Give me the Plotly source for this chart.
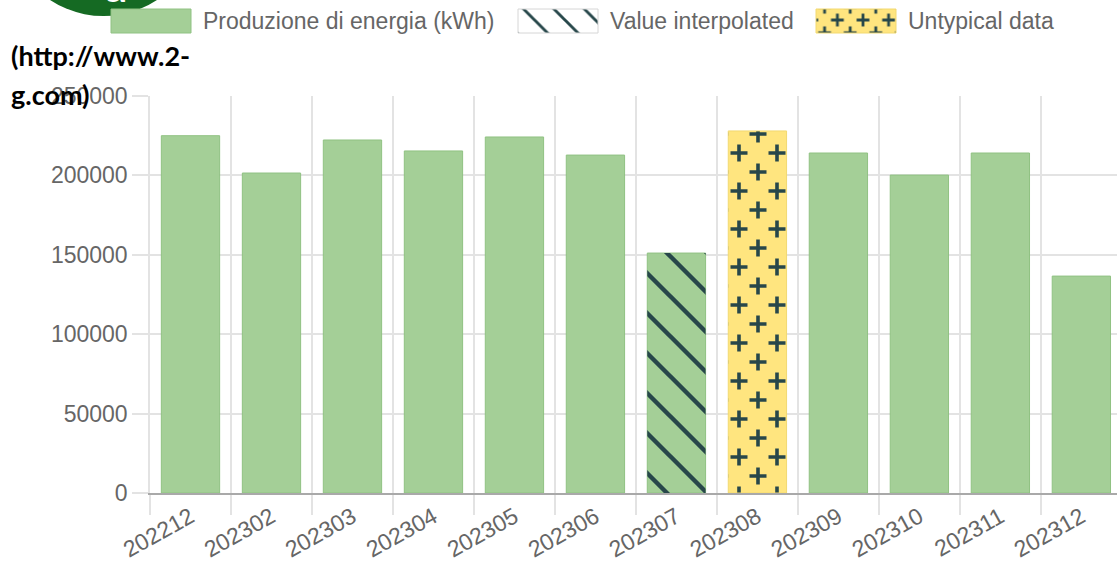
import plotly.graph_objects as go

# ---- data ----
months = ["202212", "202302", "202303", "202304", "202305", "202306",
          "202307", "202308", "202309", "202310", "202311", "202312"]
production_kwh = [225000, 201500, 222300, 215400, 224200, 212800,
                  151100, 228000, 214100, 200200, 214100, 136600]
interpolated_months = ["202307"]
untypical_months = ["202308"]
y_ticks = [0, 50000, 100000, 150000, 200000, 250000]
series_names = ["Produzione di energia (kWh)", "Value interpolated", "Untypical data"]
link_lines = ["(http://www.2-", "g.com)"]

GREEN = "#a4cf97"
GREEN_LINE = "#90c283"
YELLOW = "#ffe57f"
DARK = "#27474a"
GRID = "#e3e3e3"
FONT = "Liberation Sans, Arial, Helvetica, sans-serif"

normal_y = [v if m not in untypical_months else None for m, v in zip(months, production_kwh)]
interp_y = [v if m in interpolated_months else None for m, v in zip(months, production_kwh)]
untyp_y = [v if m in untypical_months else None for m, v in zip(months, production_kwh)]

fig = go.Figure()
fig.add_trace(go.Bar(
    x=months, y=normal_y, name=series_names[0], width=0.72,
    marker=dict(color=GREEN, line=dict(color=GREEN_LINE, width=1)),
    hoverinfo="skip",
))
fig.add_trace(go.Bar(
    x=months, y=interp_y, name=series_names[1], width=0.72,
    marker=dict(color="rgba(0,0,0,0)", line=dict(color="rgba(0,0,0,0)", width=0),
                pattern=dict(shape="\\", fgcolor=DARK, bgcolor="rgba(0,0,0,0)",
                             size=40, solidity=0.1, fillmode="replace")),
    hoverinfo="skip",
))
fig.add_trace(go.Bar(
    x=months, y=untyp_y, name=series_names[2], width=0.72,
    marker=dict(color=YELLOW, line=dict(color="#f2d970", width=1),
                pattern=dict(shape="+", fgcolor=DARK, bgcolor=YELLOW,
                             size=38, solidity=0.1, fillmode="replace")),
    hoverinfo="skip",
))

W, H = 1117, 562
L, T, B = 150, 96, 69
PW = W - L
PH = H - T - B


def px_x(x):
    return (x - L) / PW


def px_y(y):
    return (H - B - y) / PH


fig.update_layout(
    width=W, height=H,
    margin=dict(l=L, r=0, t=T, b=B, pad=0, autoexpand=False),
    paper_bgcolor="white", plot_bgcolor="white",
    barmode="overlay",
    font=dict(family=FONT, size=23, color="#666666"),
    showlegend=True,
    legend=dict(orientation="h", x=px_x(110), xanchor="left", y=px_y(2), yanchor="top",
                font=dict(family=FONT, size=23, color="#666666"),
                itemwidth=80, traceorder="normal", bgcolor="rgba(0,0,0,0)",
                itemclick=False, itemdoubleclick=False),
    xaxis=dict(type="category", categoryorder="array", categoryarray=months,
               range=[-0.5, 11.44], tickson="boundaries", ticks="outside", ticklen=20,
               tickcolor=GRID, tickwidth=1.5, showgrid=True, gridcolor=GRID, gridwidth=1.5,
               showline=True, linecolor="#a9a9a9", linewidth=1.5, tickangle=-29,
               ticklabelstandoff=0, automargin=False,
               tickfont=dict(family=FONT, size=23, color="#666666"), fixedrange=True),
    yaxis=dict(range=[0, 250000], tickvals=y_ticks, tickformat="d", ticks="outside",
               ticklen=16, tickcolor=GRID, tickwidth=1.5, showgrid=True, gridcolor=GRID,
               gridwidth=1.5, zeroline=False, showline=True, linecolor=GRID, linewidth=1.5,
               automargin=False,
               tickfont=dict(family=FONT, size=23, color="#666666"), fixedrange=True),
    shapes=[dict(type="circle", xref="paper", yref="paper",
                 x0=px_x(6), x1=px_x(201), y0=px_y(16), y1=px_y(-179),
                 fillcolor="#156a23", line=dict(width=0), layer="above")],
    annotations=[
        dict(text="<b>a</b>", xref="paper", yref="paper", x=px_x(116), y=px_y(13),
             xanchor="center", yanchor="bottom", showarrow=False,
             font=dict(family="Lato", size=44, color="white")),
        dict(text="<b>%s</b>" % link_lines[0], xref="paper", yref="paper",
             x=px_x(9), y=px_y(56), xanchor="left", yanchor="middle", showarrow=False,
             font=dict(family="Lato", size=27, color="black")),
        dict(text="<b>%s</b>" % link_lines[1], xref="paper", yref="paper",
             x=px_x(9), y=px_y(94), xanchor="left", yanchor="middle", showarrow=False,
             font=dict(family="Lato", size=27, color="black")),
    ],
)

post_js = r"""
var gd = document.getElementById('{plot_id}');
document.body.style.margin = '0';
function patOf(el){
  var f = el.style.fill || el.getAttribute('fill') || '';
  var m = f.match(/#([^"')\s]+)/);
  return m ? document.getElementById(m[1]) : null;
}
function setTile(pt, s){
  pt.setAttribute('width', s); pt.setAttribute('height', s);
  var r = pt.querySelector('rect');
  if(r){ r.setAttribute('width', s); r.setAttribute('height', s); }
  return pt.querySelector('path');
}
function cross(pt, s, a, w){
  if(!pt) return;
  var p = setTile(pt, s); if(!p) return;
  var c = [[0,0],[s,0],[0,s],[s,s],[s/2,s/2]], d = '';
  c.forEach(function(q){ d += 'M'+(q[0]-a)+','+q[1]+'H'+(q[0]+a)+'M'+q[0]+','+(q[1]-a)+'V'+(q[1]+a); });
  p.setAttribute('d', d); p.style.strokeWidth = w + 'px'; p.style.strokeLinecap = 'butt';
}
function diag(pt, s, w){
  if(!pt) return;
  var p = setTile(pt, s); if(!p) return;
  var q = s/4;
  var d = 'M'+(-q)+','+(3*q)+'L'+q+','+(5*q)+'M0,0L'+s+','+s+'M'+(3*q)+','+(-q)+'L'+(5*q)+','+q;
  p.setAttribute('d', d); p.style.strokeWidth = w + 'px';
}
var TEXT_LEFT = [203, 610, 908], TEXT_MID = 21;
function fix(){
  var tr = gd.querySelectorAll('.barlayer .trace');
  if(tr.length > 2){
    tr[2].querySelectorAll('path').forEach(function(p){ cross(patOf(p), 38, 8.5, 3.6); });
  }
  if(tr.length > 1){
    tr[1].querySelectorAll('path').forEach(function(p){ diag(patOf(p), 40, 4.4); });
  }
  var svg = gd.querySelector('svg.main-svg');
  var sb = gd.querySelector('.legend .scrollbox');
  if(sb){ sb.removeAttribute('clip-path'); sb.style.clipPath = 'none'; }
  var host = gd.getBoundingClientRect();
  gd.querySelectorAll('.legend .traces').forEach(function(it, i){
    var path = it.querySelector('.legendpoints path');
    var txt = it.querySelector('text.legendtext');
    if(!path || !txt) return;
    var r0 = txt.getBoundingClientRect();
    var dx = TEXT_LEFT[i] - (r0.left - host.left);
    var dy = TEXT_MID - (r0.top - host.top + r0.height / 2);
    if(Math.abs(dx) > 0.5 || Math.abs(dy) > 0.5){
      var t = it.getAttribute('transform') || '';
      it.setAttribute('transform', t + ' translate(' + dx + ',' + dy + ')');
    }
    var r1 = txt.getBoundingClientRect();
    var inv = path.getScreenCTM().inverse();
    var p = svg.createSVGPoint();
    p.x = r1.left - 12; p.y = r1.top + r1.height / 2;
    var q = p.matrixTransform(inv);
    path.setAttribute('d', 'M'+(q.x-80)+','+(q.y-12)+'H'+q.x+'V'+(q.y+12)+'H'+(q.x-80)+'Z');
    if(i == 1){ diag(patOf(path), 38, 3.6); path.style.stroke = '#d6d6d6'; path.style.strokeWidth = '1px'; }
    if(i == 2){ cross(patOf(path), 32, 8, 3.5); }
  });
}
fix();
gd.on('plotly_afterplot', fix);
"""

fig.write_html("out.html", post_script=post_js, config={"displayModeBar": False})
